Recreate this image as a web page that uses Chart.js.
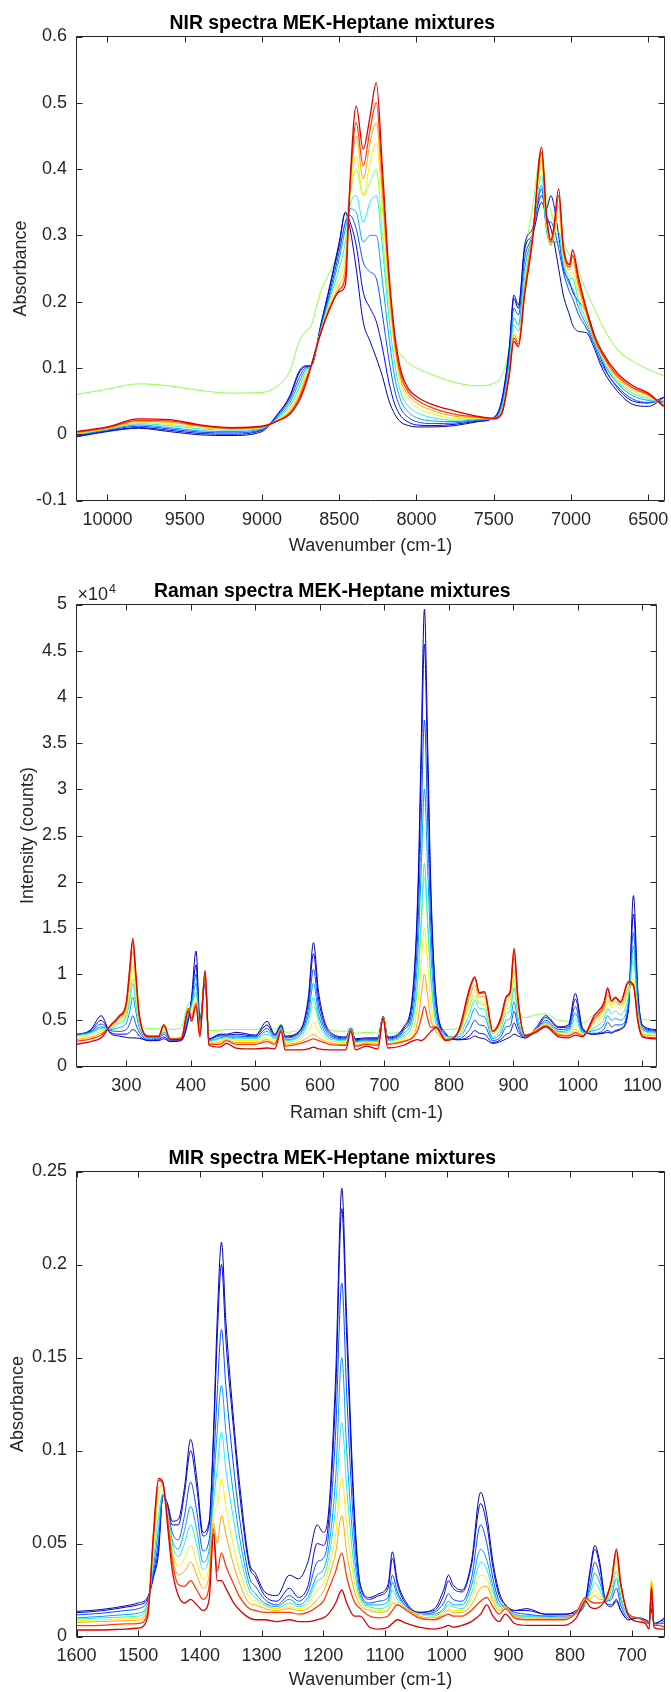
<!DOCTYPE html>
<html>
<head>
<meta charset="utf-8">
<title>MEK-Heptane mixtures</title>
<script src="https://cdn.jsdelivr.net/npm/chart.js@4.4.1/dist/chart.umd.min.js"></script>
<style>
  html, body { margin: 0; padding: 0; background: #fff; }
  #page { position: relative; width: 671px; height: 1692px; overflow: hidden; }
  #page canvas { position: absolute; left: 0; }
</style>
</head>
<body>
<div id="page">
  <canvas id="nirChart" width="671" height="560" style="top:0px"></canvas>
  <canvas id="ramanChart" width="671" height="570" style="top:560px"></canvas>
  <canvas id="mirChart" width="671" height="562" style="top:1130px"></canvas>
</div>
<script>
// ---------- NIR (absorbance vs wavenumber) ----------
const NIR_WAVENUMBER = [10200, 10000, 9800, 9600, 9400, 9200, 9000,
  8900, 8820, 8760, 8720, 8680, 8620, 8560, 8500, 8460,
  8430, 8390, 8345, 8300, 8260, 8220, 8180, 8140, 8100, 8050, 8000, 7900, 7750, 7600,
  7500, 7450, 7400, 7370, 7340, 7300, 7250, 7190, 7160, 7130, 7110, 7080, 7050, 7010, 6990,
  6950, 6900, 6850, 6800, 6700, 6600, 6500, 6400];
const nir0 = [-0.004, 0.004, 0.009, 0.004, -0.001, -0.002, 0.004,
  0.030, 0.058, 0.095, 0.103, 0.104, 0.165, 0.225, 0.29, 0.335,
  0.31, 0.25, 0.17, 0.14, 0.115, 0.087, 0.052, 0.03, 0.018, 0.013, 0.011, 0.011, 0.013, 0.019,
  0.025, 0.05, 0.13, 0.205, 0.19, 0.28, 0.30, 0.35, 0.33, 0.31, 0.29, 0.25, 0.21, 0.18, 0.165,
  0.155, 0.153, 0.13, 0.1, 0.065, 0.045, 0.042, 0.055];
const nir1 = [-0.003, 0.005, 0.010, 0.006, 0.001, 0.000, 0.006,
  0.029, 0.056, 0.092, 0.102, 0.104, 0.162, 0.222, 0.285, 0.334,
  0.32, 0.285, 0.215, 0.19, 0.17, 0.13, 0.08, 0.045, 0.027, 0.018, 0.014, 0.013, 0.015, 0.02,
  0.025, 0.048, 0.125, 0.21, 0.195, 0.285, 0.31, 0.36, 0.34, 0.36, 0.345, 0.30, 0.25, 0.23, 0.215,
  0.2, 0.185, 0.15, 0.11, 0.07, 0.05, 0.047, 0.056];
const nir2 = [-0.002, 0.006, 0.012, 0.008, 0.003, 0.002, 0.007,
  0.027, 0.052, 0.085, 0.100, 0.104, 0.160, 0.215, 0.275, 0.32,
  0.33, 0.31, 0.26, 0.245, 0.235, 0.18, 0.115, 0.065, 0.038, 0.025, 0.019, 0.016, 0.017, 0.021,
  0.024, 0.044, 0.115, 0.19, 0.18, 0.265, 0.30, 0.37, 0.32, 0.32, 0.31, 0.28, 0.245, 0.215, 0.205,
  0.18, 0.16, 0.135, 0.105, 0.072, 0.053, 0.048, 0.05];
const nir3 = [-0.001, 0.007, 0.014, 0.010, 0.005, 0.004, 0.008,
  0.025, 0.047, 0.078, 0.097, 0.104, 0.158, 0.21, 0.265, 0.31,
  0.34, 0.335, 0.29, 0.3, 0.3, 0.23, 0.15, 0.085, 0.05, 0.033, 0.025, 0.02, 0.019, 0.022,
  0.024, 0.04, 0.108, 0.175, 0.165, 0.25, 0.30, 0.375, 0.31, 0.29, 0.29, 0.29, 0.255, 0.225, 0.22,
  0.19, 0.165, 0.14, 0.112, 0.077, 0.058, 0.051, 0.047];
const nir4 = [0.000, 0.008, 0.016, 0.013, 0.008, 0.006, 0.009,
  0.023, 0.042, 0.070, 0.093, 0.104, 0.156, 0.205, 0.25, 0.29,
  0.345, 0.36, 0.32, 0.35, 0.36, 0.28, 0.18, 0.105, 0.062, 0.042, 0.033, 0.025, 0.021, 0.023,
  0.024, 0.037, 0.1, 0.165, 0.155, 0.235, 0.30, 0.39, 0.31, 0.285, 0.295, 0.305, 0.26, 0.235, 0.235,
  0.2, 0.172, 0.142, 0.115, 0.08, 0.062, 0.054, 0.045];
const nir5 = [0.001, 0.008, 0.017, 0.015, 0.010, 0.007, 0.010,
  0.022, 0.038, 0.063, 0.088, 0.105, 0.155, 0.2, 0.235, 0.27,
  0.36, 0.42, 0.36, 0.41, 0.44, 0.34, 0.215, 0.125, 0.075, 0.052, 0.041, 0.031, 0.024, 0.024,
  0.023, 0.034, 0.095, 0.155, 0.145, 0.225, 0.30, 0.405, 0.32, 0.285, 0.3, 0.33, 0.27, 0.24, 0.245,
  0.21, 0.178, 0.144, 0.118, 0.083, 0.065, 0.057, 0.044];
const nir6 = [0.002, 0.009, 0.019, 0.018, 0.012, 0.008, 0.011,
  0.021, 0.035, 0.058, 0.083, 0.105, 0.154, 0.195, 0.225, 0.255,
  0.37, 0.45, 0.385, 0.44, 0.47, 0.36, 0.23, 0.135, 0.082, 0.058, 0.047, 0.036, 0.027, 0.025,
  0.023, 0.032, 0.093, 0.15, 0.14, 0.22, 0.30, 0.415, 0.325, 0.285, 0.305, 0.345, 0.275, 0.248, 0.26,
  0.22, 0.182, 0.145, 0.12, 0.085, 0.068, 0.059, 0.043];
const nir7 = [0.003, 0.010, 0.021, 0.020, 0.013, 0.009, 0.011,
  0.020, 0.032, 0.054, 0.078, 0.105, 0.153, 0.19, 0.218, 0.24,
  0.375, 0.47, 0.405, 0.46, 0.50, 0.38, 0.24, 0.14, 0.088, 0.063, 0.052, 0.04, 0.03, 0.026,
  0.023, 0.031, 0.09, 0.145, 0.136, 0.215, 0.295, 0.425, 0.33, 0.29, 0.31, 0.36, 0.28, 0.252, 0.27,
  0.228, 0.185, 0.147, 0.122, 0.088, 0.07, 0.06, 0.042];
const nir8 = [0.004, 0.011, 0.023, 0.022, 0.014, 0.010, 0.012,
  0.020, 0.030, 0.050, 0.073, 0.104, 0.152, 0.19, 0.215, 0.225,
  0.38, 0.495, 0.43, 0.48, 0.53, 0.40, 0.25, 0.15, 0.095, 0.068, 0.057, 0.045, 0.035, 0.027,
  0.024, 0.03, 0.088, 0.14, 0.132, 0.21, 0.29, 0.433, 0.335, 0.293, 0.315, 0.37, 0.285, 0.256, 0.278,
  0.235, 0.189, 0.15, 0.125, 0.092, 0.073, 0.062, 0.042];
const nirOffset = [0.060, 0.068, 0.076, 0.073, 0.066, 0.062, 0.063,
  0.073, 0.095, 0.14, 0.155, 0.165, 0.215, 0.245, 0.28, 0.32,
  0.36, 0.40, 0.36, 0.38, 0.40, 0.30, 0.2, 0.14, 0.12, 0.107, 0.1, 0.09, 0.078, 0.073,
  0.077, 0.088, 0.13, 0.2, 0.19, 0.27, 0.34, 0.43, 0.36, 0.337, 0.32, 0.305, 0.29, 0.27, 0.265,
  0.245, 0.215, 0.19, 0.165, 0.128, 0.11, 0.098, 0.088];
const NIR_X_TICKS = [6500, 7000, 7500, 8000, 8500, 9000, 9500, 10000];
const NIR_Y_TICKS = [-0.1, 0, 0.1, 0.2, 0.3, 0.4, 0.5, 0.6];

// ---------- Raman (counts vs Raman shift) ----------
const RAMAN_SHIFT = [221, 245, 261, 275, 288, 300, 305, 310, 315, 320, 335, 350,
  358, 368, 385, 396, 401, 408, 414, 422, 428, 445,
  455, 470, 500, 518, 530, 540, 546, 570, 582, 590,
  598, 615, 640, 648, 655, 672, 690, 698, 705, 730,
  745, 752, 757, 762, 767, 772, 780, 795, 815, 832,
  840, 847, 855, 868, 880, 889, 895, 901, 907, 918,
  935, 950, 970, 985, 996, 1007, 1025, 1040, 1046, 1052,
  1058, 1066, 1078, 1086, 1093, 1100, 1121];
const raman0 = [3300, 4000, 5500, 3600, 3300, 3150, 3100, 3100, 3080, 3050, 2800, 2800,
  3000, 2700, 2800, 5000, 7500, 12500, 5000, 9000, 3000, 3500,
  3500, 3700, 3400, 4900, 3500, 4500, 3300, 4000, 7500, 13400,
  8000, 3800, 3200, 4100, 3000, 3100, 3100, 5400, 3200, 4300,
  9000, 19500, 35000, 49500, 35000, 19500, 7500, 3600, 2900, 3000,
  3300, 3100, 3000, 2500, 2700, 3000, 3200, 3500, 3300, 3100,
  4200, 5500, 4300, 4500, 7900, 4200, 3500, 3600, 3700, 3600,
  3800, 4000, 6000, 18500, 8000, 4500, 4000];
const raman1 = [3400, 3900, 5000, 3700, 3500, 3500, 3700, 4000, 3800, 3300, 2800, 2900,
  3200, 2700, 2900, 5200, 7200, 11000, 4800, 9300, 3000, 3400,
  3400, 3500, 3300, 4500, 3400, 4400, 3200, 3900, 7000, 12200,
  7300, 3600, 3100, 4100, 2900, 3000, 3000, 5400, 3100, 4100,
  8400, 18100, 32100, 45700, 32100, 18100, 7100, 3500, 2900, 3300,
  3900, 3600, 3500, 2600, 2900, 3500, 3700, 4700, 3800, 3100,
  4000, 5300, 4200, 4300, 7300, 4000, 3500, 3700, 3900, 3700,
  3900, 4100, 6200, 16500, 7600, 4400, 3900];
const raman2 = [3500, 3800, 4600, 3900, 3800, 4000, 4600, 5500, 4500, 3700, 2900, 3000,
  3500, 2800, 3000, 5400, 7000, 10000, 4600, 9500, 2900, 3300,
  3300, 3300, 3200, 4100, 3300, 4300, 3100, 3700, 6200, 10500,
  6400, 3400, 3000, 4100, 2800, 2900, 2900, 5400, 3000, 3900,
  7300, 15200, 26500, 37500, 26500, 15200, 6300, 3400, 3000, 4000,
  5000, 4500, 4400, 2800, 3200, 4300, 4400, 6000, 4300, 3100,
  3900, 5000, 4000, 4100, 6500, 3800, 3600, 4000, 4800, 4300,
  4500, 4500, 6500, 14500, 7000, 4200, 3800];
const raman3 = [3400, 3700, 4300, 4000, 4200, 4700, 5900, 7500, 5800, 4200, 3000, 3100,
  3700, 2900, 3100, 5600, 6700, 9000, 4400, 9700, 2800, 3100,
  3200, 3100, 3100, 3800, 3100, 4200, 2900, 3500, 5500, 9000,
  5600, 3200, 2900, 4100, 2700, 2800, 2800, 5400, 2900, 3600,
  6200, 12500, 21400, 30000, 21400, 12500, 5400, 3300, 3200, 5000,
  6300, 5500, 5400, 3000, 3600, 5000, 5200, 7000, 4800, 3200,
  3900, 4800, 3800, 3900, 5800, 3700, 3900, 4500, 5500, 5000,
  5200, 5000, 7000, 13000, 6500, 4000, 3700];
const raman4 = [3300, 3600, 4100, 4100, 4600, 5400, 7000, 9000, 6600, 4600, 3100, 3200,
  3900, 3000, 3200, 5800, 6500, 8000, 4200, 9800, 2700, 3000,
  3100, 3000, 3000, 3500, 3000, 4100, 2800, 3300, 4800, 7500,
  4900, 3000, 2800, 4000, 2600, 2700, 2700, 5300, 2800, 3300,
  5200, 9600, 15900, 22000, 15900, 9600, 4600, 3200, 3400, 5800,
  7200, 6300, 6200, 3200, 4000, 5800, 6000, 8500, 5400, 3300,
  4000, 4700, 3700, 3700, 5200, 3600, 4200, 5100, 6300, 5700,
  6000, 5600, 7500, 11500, 6000, 3900, 3600];
const raman5 = [3100, 3400, 3800, 4200, 4900, 6000, 8400, 11000, 7800, 5000, 3200, 3300,
  4100, 3000, 3200, 6000, 6000, 7200, 3900, 10000, 2600, 2800,
  3000, 2800, 2800, 3100, 2800, 4000, 2600, 3000, 3800, 4800,
  3800, 2800, 2600, 3900, 2500, 2600, 2600, 5300, 2700, 3000,
  4200, 7000, 11100, 15000, 11100, 7000, 3800, 3100, 3600, 6800,
  8100, 7000, 7000, 3500, 4500, 6700, 7200, 10500, 6300, 3400,
  4000, 4600, 3600, 3600, 4500, 3500, 4600, 5800, 7200, 6400,
  6700, 6200, 8000, 9500, 5500, 3700, 3400];
const raman6 = [2900, 3200, 3600, 4300, 5100, 6500, 9500, 12500, 8800, 5300, 3200, 3300,
  4300, 3000, 3100, 6200, 5600, 6800, 3600, 10100, 2500, 2600,
  2900, 2600, 2600, 2900, 2600, 4000, 2400, 2700, 3200, 3500,
  3100, 2600, 2400, 3900, 2300, 2500, 2400, 5300, 2500, 2800,
  3400, 5100, 7600, 10000, 7600, 5100, 3800, 3000, 3700, 7500,
  8800, 7500, 7600, 3700, 4800, 7200, 7800, 11800, 6800, 3400,
  3900, 4500, 3500, 3400, 4000, 3400, 4900, 6300, 7800, 6900,
  7100, 6600, 8500, 8900, 5100, 3500, 3300];
const raman7 = [2700, 3000, 3400, 4400, 5300, 6800, 10200, 13500, 9500, 5500, 3300, 3300,
  4500, 3000, 3100, 6300, 5200, 6800, 3400, 10300, 2400, 2400,
  2800, 2400, 2400, 2700, 2400, 4000, 2200, 2500, 2800, 3000,
  2800, 2400, 2300, 3900, 2200, 2400, 2300, 5300, 2400, 2700,
  3200, 4000, 5200, 6500, 5200, 4200, 4300, 2900, 3800, 8200,
  9600, 7900, 8000, 3800, 5000, 7500, 8000, 12600, 7200, 3400,
  3800, 4400, 3400, 3300, 3700, 3300, 5200, 6600, 8400, 7100,
  7400, 6900, 9000, 8700, 4900, 3300, 3100];
const raman8 = [2400, 2700, 3100, 4400, 5400, 7000, 10500, 13900, 9800, 5600, 3200, 3200,
  4500, 2900, 2900, 6000, 4900, 6500, 3200, 10400, 2300, 2100,
  2500, 2000, 1900, 2000, 1900, 3800, 1800, 1800, 1900, 2100,
  1900, 1800, 1800, 3800, 1800, 2200, 1900, 5200, 2000, 2300,
  2800, 2900, 2800, 3000, 3400, 3800, 4200, 2800, 3900, 8500,
  9700, 8000, 8100, 3800, 5200, 7600, 8200, 12800, 7400, 3300,
  3700, 4300, 3200, 3100, 3400, 3200, 5500, 6900, 8500, 7100,
  7500, 7000, 9200, 8800, 4800, 3200, 3000];
const ramanOffset = [3400, 3700, 4200, 4300, 4800, 5600, 7500, 9500, 7000, 5000, 4100, 4100,
  4500, 4000, 4200, 6800, 7000, 8000, 4800, 9800, 3900, 3900,
  4000, 4000, 4000, 4300, 4000, 4600, 3700, 4200, 5300, 6500,
  5200, 4000, 3800, 4300, 3600, 3700, 3600, 5400, 3600, 4000,
  5800, 9600, 15100, 20500, 15100, 9600, 5200, 4000, 4200, 6500,
  7700, 6800, 6700, 4200, 4700, 6200, 6500, 9500, 6000, 5300,
  5600, 5700, 5000, 4900, 5600, 4700, 5600, 6000, 7000, 6700,
  6900, 6600, 8200, 12000, 6500, 5100, 5000];
const RAMAN_X_TICKS = [300, 400, 500, 600, 700, 800, 900, 1000, 1100];
const RAMAN_Y_TICKS = [0, 5000, 10000, 15000, 20000, 25000, 30000, 35000, 40000, 45000, 50000];
const RAMAN_Y_LABELS = ['0', '0.5', '1', '1.5', '2', '2.5', '3', '3.5', '4', '4.5', '5'];

// ---------- MIR (absorbance vs wavenumber) ----------
const MIR_WAVENUMBER = [1600, 1560, 1520, 1500, 1485, 1475, 1467, 1460, 1452, 1445,
  1435, 1425, 1415, 1405, 1395, 1385, 1378, 1372, 1365, 1358,
  1345, 1335, 1320, 1310, 1295, 1275, 1255, 1240, 1225, 1210,
  1200, 1192, 1180, 1170, 1162, 1150, 1140, 1125, 1110, 1095,
  1088, 1080, 1065, 1045, 1020, 1005, 997, 990, 975, 960,
  945, 935, 925, 915, 905, 890, 870, 840, 810, 790,
  775, 768, 760, 752, 742, 733, 725, 718, 705, 690,
  678, 672, 668, 664, 655, 648];
const mir0 = [0.0135, 0.0145, 0.0165, 0.018, 0.021, 0.032, 0.045, 0.076, 0.071, 0.062,
  0.063, 0.08, 0.106, 0.085, 0.056, 0.062, 0.11, 0.17, 0.212, 0.17,
  0.115, 0.08, 0.04, 0.034, 0.024, 0.022, 0.033, 0.031, 0.04, 0.06,
  0.056, 0.065, 0.14, 0.241, 0.17, 0.07, 0.028, 0.021, 0.023, 0.028,
  0.0455, 0.03, 0.018, 0.013, 0.015, 0.025, 0.033, 0.028, 0.025, 0.04,
  0.0775, 0.065, 0.04, 0.024, 0.017, 0.014, 0.015, 0.012, 0.012, 0.014,
  0.02, 0.035, 0.049, 0.04, 0.018, 0.016, 0.019, 0.014, 0.009, 0.01,
  0.009, 0.008, 0.014, 0.007, 0.008, 0.01];
const mir1 = [0.0128, 0.0138, 0.0158, 0.017, 0.02, 0.033, 0.048, 0.076, 0.07, 0.06,
  0.06, 0.077, 0.1, 0.08, 0.054, 0.06, 0.105, 0.16, 0.2, 0.16,
  0.11, 0.075, 0.038, 0.032, 0.022, 0.019, 0.026, 0.021, 0.027, 0.05,
  0.049, 0.06, 0.13, 0.23, 0.16, 0.065, 0.027, 0.02, 0.022, 0.026,
  0.042, 0.028, 0.017, 0.013, 0.014, 0.022, 0.03, 0.026, 0.024, 0.038,
  0.0715, 0.06, 0.037, 0.022, 0.017, 0.014, 0.014, 0.012, 0.012, 0.013,
  0.019, 0.033, 0.047, 0.038, 0.018, 0.017, 0.02, 0.014, 0.009, 0.01,
  0.009, 0.008, 0.015, 0.007, 0.008, 0.009];
const mir2 = [0.0116, 0.0125, 0.014, 0.015, 0.019, 0.035, 0.052, 0.076, 0.068, 0.056,
  0.052, 0.065, 0.083, 0.067, 0.046, 0.052, 0.09, 0.13, 0.165, 0.135,
  0.09, 0.062, 0.032, 0.027, 0.02, 0.017, 0.022, 0.019, 0.024, 0.04,
  0.042, 0.053, 0.11, 0.19, 0.13, 0.055, 0.024, 0.018, 0.019, 0.021,
  0.033, 0.024, 0.016, 0.012, 0.013, 0.018, 0.023, 0.02, 0.019, 0.031,
  0.06, 0.05, 0.031, 0.019, 0.016, 0.013, 0.012, 0.011, 0.011, 0.012,
  0.018, 0.028, 0.04, 0.033, 0.019, 0.02, 0.026, 0.017, 0.01, 0.01,
  0.009, 0.008, 0.018, 0.007, 0.007, 0.008];
const mir3 = [0.010, 0.0108, 0.0118, 0.0125, 0.017, 0.038, 0.058, 0.076, 0.066, 0.052,
  0.047, 0.057, 0.07, 0.057, 0.04, 0.047, 0.08, 0.11, 0.135, 0.11,
  0.075, 0.052, 0.028, 0.023, 0.018, 0.016, 0.02, 0.017, 0.021, 0.033,
  0.036, 0.046, 0.085, 0.15, 0.1, 0.045, 0.022, 0.017, 0.017, 0.019,
  0.029, 0.022, 0.016, 0.012, 0.012, 0.015, 0.019, 0.017, 0.017, 0.027,
  0.047, 0.041, 0.027, 0.017, 0.016, 0.012, 0.011, 0.011, 0.01, 0.012,
  0.018, 0.025, 0.034, 0.029, 0.019, 0.022, 0.031, 0.02, 0.011, 0.01,
  0.008, 0.007, 0.021, 0.006, 0.007, 0.007];
const mir4 = [0.0094, 0.010, 0.0105, 0.011, 0.016, 0.042, 0.065, 0.077, 0.066, 0.05,
  0.043, 0.05, 0.06, 0.049, 0.036, 0.043, 0.072, 0.09, 0.11, 0.09,
  0.062, 0.044, 0.025, 0.021, 0.017, 0.015, 0.018, 0.016, 0.019, 0.03,
  0.032, 0.041, 0.07, 0.115, 0.08, 0.037, 0.02, 0.016, 0.015, 0.017,
  0.025, 0.02, 0.015, 0.012, 0.011, 0.014, 0.017, 0.016, 0.015, 0.023,
  0.04, 0.036, 0.024, 0.016, 0.016, 0.011, 0.011, 0.01, 0.01, 0.012,
  0.018, 0.023, 0.029, 0.025, 0.019, 0.025, 0.035, 0.022, 0.011, 0.01,
  0.008, 0.007, 0.026, 0.006, 0.006, 0.006];
const mir5 = [0.0085, 0.009, 0.0095, 0.0098, 0.015, 0.048, 0.075, 0.079, 0.065, 0.047,
  0.038, 0.042, 0.049, 0.04, 0.031, 0.038, 0.066, 0.07, 0.085, 0.07,
  0.048, 0.035, 0.021, 0.019, 0.016, 0.015, 0.016, 0.015, 0.017, 0.025,
  0.028, 0.036, 0.055, 0.085, 0.06, 0.03, 0.019, 0.015, 0.014, 0.015,
  0.021, 0.018, 0.015, 0.012, 0.011, 0.013, 0.015, 0.014, 0.014, 0.02,
  0.033, 0.031, 0.021, 0.015, 0.016, 0.011, 0.01, 0.01, 0.01, 0.012,
  0.019, 0.021, 0.025, 0.022, 0.02, 0.027, 0.04, 0.025, 0.012, 0.01,
  0.008, 0.007, 0.031, 0.006, 0.006, 0.006];
const mir6 = [0.0076, 0.008, 0.0085, 0.0088, 0.014, 0.052, 0.08, 0.081, 0.063, 0.044,
  0.033, 0.035, 0.04, 0.033, 0.026, 0.033, 0.061, 0.05, 0.065, 0.055,
  0.038, 0.028, 0.018, 0.017, 0.015, 0.014, 0.015, 0.014, 0.015, 0.02,
  0.024, 0.031, 0.045, 0.065, 0.045, 0.025, 0.017, 0.014, 0.013, 0.014,
  0.018, 0.017, 0.015, 0.011, 0.01, 0.012, 0.014, 0.013, 0.013, 0.017,
  0.026, 0.027, 0.019, 0.014, 0.016, 0.011, 0.01, 0.01, 0.01, 0.013,
  0.02, 0.02, 0.022, 0.02, 0.02, 0.03, 0.044, 0.027, 0.012, 0.01,
  0.008, 0.007, 0.029, 0.006, 0.006, 0.005];
const mir7 = [0.0058, 0.006, 0.0068, 0.007, 0.012, 0.055, 0.084, 0.082, 0.062, 0.041,
  0.028, 0.027, 0.03, 0.025, 0.02, 0.027, 0.058, 0.035, 0.045, 0.038,
  0.028, 0.021, 0.015, 0.014, 0.013, 0.013, 0.013, 0.012, 0.013, 0.016,
  0.019, 0.025, 0.035, 0.045, 0.032, 0.019, 0.015, 0.011, 0.01, 0.011,
  0.014, 0.017, 0.014, 0.01, 0.009, 0.011, 0.012, 0.011, 0.011, 0.014,
  0.019, 0.021, 0.016, 0.012, 0.015, 0.01, 0.009, 0.009, 0.009, 0.013,
  0.021, 0.019, 0.018, 0.018, 0.021, 0.03, 0.046, 0.028, 0.012, 0.01,
  0.008, 0.007, 0.027, 0.006, 0.006, 0.005];
const mir8 = [0.0035, 0.0035, 0.004, 0.0045, 0.01, 0.057, 0.085, 0.083, 0.058, 0.036,
  0.022, 0.018, 0.02, 0.017, 0.014, 0.02, 0.055, 0.03, 0.03, 0.026,
  0.018, 0.014, 0.01, 0.009, 0.009, 0.008, 0.009, 0.008, 0.008, 0.009,
  0.01, 0.012, 0.018, 0.025, 0.018, 0.011, 0.011, 0.005, 0.004, 0.005,
  0.007, 0.009, 0.007, 0.005, 0.004, 0.005, 0.006, 0.005, 0.006, 0.008,
  0.012, 0.017, 0.011, 0.008, 0.012, 0.007, 0.006, 0.006, 0.006, 0.01,
  0.019, 0.016, 0.015, 0.016, 0.02, 0.03, 0.047, 0.029, 0.011, 0.008,
  0.007, 0.004, 0.026, 0.005, 0.004, 0.004];
const MIR_X_TICKS = [700, 800, 900, 1000, 1100, 1200, 1300, 1400, 1500, 1600];
const MIR_Y_TICKS = [0, 0.05, 0.1, 0.15, 0.2, 0.25];

// jet-like colours, MEK-rich (blue) to heptane-rich (red)
const JET = ['#0000A6', '#0000F0', '#0050FF', '#00A0FF', '#20F0E0', '#FFEE00', '#FFA500', '#FF3C00', '#DD0000'];
const OFFSET_GREEN = '#8CFF4A';

const FONT = '"Liberation Sans", Arial, Helvetica, sans-serif';
const AXIS_COLOR = '#262626';
const TICK_LEN = 6;
Chart.defaults.font.family = FONT;
Chart.defaults.color = AXIS_COLOR;

// MATLAB-like box with inward ticks on all four sides
const matlabBox = {
    id: 'matlabBox',
    afterDraw(chart, args, opts) {
        const {ctx, chartArea: a, scales} = chart;
        const x = scales.x, y = scales.y;
        ctx.save();
        ctx.strokeStyle = AXIS_COLOR;
        ctx.lineWidth = 1;
        ctx.beginPath();
        ctx.rect(a.left, a.top, a.right - a.left, a.bottom - a.top);
        x.ticks.forEach(t => {
            const px = Math.round(x.getPixelForValue(t.value)) + 0.5;
            ctx.moveTo(px, a.bottom); ctx.lineTo(px, a.bottom - TICK_LEN);
            ctx.moveTo(px, a.top); ctx.lineTo(px, a.top + TICK_LEN);
        });
        y.ticks.forEach(t => {
            const py = Math.round(y.getPixelForValue(t.value)) + 0.5;
            ctx.moveTo(a.left, py); ctx.lineTo(a.left + TICK_LEN, py);
            ctx.moveTo(a.right, py); ctx.lineTo(a.right - TICK_LEN, py);
        });
        ctx.stroke();
        if (opts && opts.exponent) {
            ctx.fillStyle = AXIS_COLOR;
            ctx.textBaseline = 'alphabetic';
            ctx.textAlign = 'left';
            ctx.font = '18px ' + FONT;
            ctx.fillText('\u00d710', a.left + 1, a.top - 4.5);
            const w = ctx.measureText('\u00d710').width;
            ctx.font = '12.5px ' + FONT;
            ctx.fillText(opts.exponent, a.left + 2 + w, a.top - 11.5);
        }
        ctx.restore();
    }
};

function buildDatasets(xs, series) {
    return series.map(s => ({
        data: xs.map((x, i) => ({x: x, y: s.values[i]})),
        borderColor: s.color,
        borderWidth: s.width || 1,
        order: s.order,
        pointRadius: 0,
        fill: false,
        cubicInterpolationMode: 'monotone'
    }));
}

function spectraChart(id, cfg) {
    const canvas = document.getElementById(id);
    const H = canvas.height;
    return new Chart(canvas.getContext('2d'), {
        type: 'line',
        data: {datasets: buildDatasets(cfg.xs, cfg.series)},
        options: {
            responsive: false,
            animation: false,
            events: [],
            parsing: false,
            layout: {padding: {left: 0, right: 671 - cfg.right, top: 0, bottom: 0}},
            plugins: {
                legend: {display: false},
                tooltip: {enabled: false},
                title: {
                    display: true,
                    text: cfg.title,
                    color: '#000',
                    font: {size: 19.4, weight: 'bold', family: FONT},
                    padding: {top: cfg.titleCenter - 11.64, bottom: cfg.top - cfg.titleCenter - 11.64}
                },
                matlabBox: {exponent: cfg.exponent}
            },
            scales: {
                x: {
                    type: 'linear',
                    min: cfg.xMin,
                    max: cfg.xMax,
                    reverse: cfg.reverse,
                    grid: {display: false, drawTicks: false},
                    border: {display: false},
                    afterBuildTicks: s => { s.ticks = cfg.xTicks.map(v => ({value: v})); },
                    afterFit: s => { s.height = H - cfg.bottom; },
                    ticks: {
                        padding: 9,
                        maxRotation: 0,
                        autoSkip: false,
                        color: AXIS_COLOR,
                        font: {size: 18},
                        callback: v => String(v)
                    },
                    title: {
                        display: true,
                        text: cfg.xLabel,
                        color: AXIS_COLOR,
                        font: {size: 18},
                        padding: {top: 0, bottom: H - 10.8 - cfg.xLabelCenter}
                    }
                },
                y: {
                    type: 'linear',
                    min: cfg.yMin,
                    max: cfg.yMax,
                    grid: {display: false, drawTicks: false},
                    border: {display: false},
                    afterBuildTicks: s => { s.ticks = cfg.yTicks.map(v => ({value: v})); },
                    afterFit: s => { s.width = cfg.left; },
                    ticks: {
                        padding: 9.5,
                        autoSkip: false,
                        color: AXIS_COLOR,
                        font: {size: 18},
                        callback: cfg.yLabelOf || (v => String(v))
                    },
                    title: {
                        display: true,
                        text: cfg.yLabel,
                        color: AXIS_COLOR,
                        font: {size: 18},
                        padding: {top: cfg.yLabelCenter - 10.8, bottom: 0}
                    }
                }
            }
        },
        plugins: [matlabBox]
    });
}

function jetSeries(list) {
    return list.map((values, i) => ({values: values, color: JET[i], order: 10 - i, width: i >= 7 ? 1.3 : 1}));
}

spectraChart('nirChart', {
    title: 'NIR spectra MEK-Heptane mixtures',
    xLabel: 'Wavenumber (cm-1)',
    yLabel: 'Absorbance',
    xs: NIR_WAVENUMBER,
    series: [{values: nirOffset, color: OFFSET_GREEN, order: 20}]
        .concat(jetSeries([nir0, nir1, nir2, nir3, nir4, nir5, nir6, nir7, nir8])),
    xMin: 6395, xMax: 10200, reverse: true,
    yMin: -0.1, yMax: 0.6,
    xTicks: NIR_X_TICKS, yTicks: NIR_Y_TICKS,
    left: 76.5, right: 664.5, top: 36.5, bottom: 500.5,
    titleCenter: 23.3, xLabelCenter: 546, yLabelCenter: 21.5
});

spectraChart('ramanChart', {
    title: 'Raman spectra MEK-Heptane mixtures',
    xLabel: 'Raman shift (cm-1)',
    yLabel: 'Intensity (counts)',
    xs: RAMAN_SHIFT,
    series: [{values: ramanOffset, color: OFFSET_GREEN, order: 20}]
        .concat(jetSeries([raman0, raman1, raman2, raman3, raman4, raman5, raman6, raman7, raman8])),
    xMin: 222.7, xMax: 1121.6, reverse: false,
    yMin: 0, yMax: 50000,
    xTicks: RAMAN_X_TICKS, yTicks: RAMAN_Y_TICKS,
    yLabelOf: v => RAMAN_Y_LABELS[RAMAN_Y_TICKS.indexOf(v)],
    exponent: '4',
    left: 76.5, right: 664.5, top: 44.5, bottom: 506.5,
    titleCenter: 31.5, xLabelCenter: 553, yLabelCenter: 27.9
});

spectraChart('mirChart', {
    title: 'MIR spectra MEK-Heptane mixtures',
    xLabel: 'Wavenumber (cm-1)',
    yLabel: 'Absorbance',
    xs: MIR_WAVENUMBER,
    series: jetSeries([mir0, mir1, mir2, mir3, mir4, mir5, mir6, mir7, mir8]),
    xMin: 647, xMax: 1600, reverse: true,
    yMin: 0, yMax: 0.25,
    xTicks: MIR_X_TICKS, yTicks: MIR_Y_TICKS,
    left: 76.5, right: 664.5, top: 41.5, bottom: 506.5,
    titleCenter: 28.8, xLabelCenter: 550.2, yLabelCenter: 17.8
});
</script>
</body>
</html>
